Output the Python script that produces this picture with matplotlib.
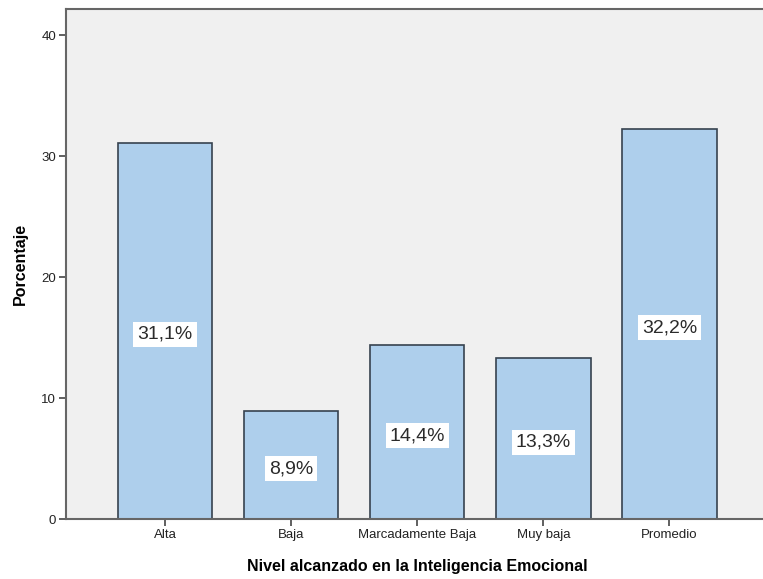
import numpy as np
import matplotlib.pyplot as plt

categorias = ["Alta", "Baja", "Marcadamente Baja", "Muy baja", "Promedio"]
porcentajes = [31.1, 8.9, 14.4, 13.3, 32.2]
etiquetas = ["31,1%", "8,9%", "14,4%", "13,3%", "32,2%"]
yticks = [0, 10, 20, 30, 40]

plt.rcParams['font.family'] = ['Liberation Sans', 'DejaVu Sans']

fig = plt.figure(figsize=(7.63, 5.79), dpi=100)
ax = fig.add_axes([66 / 763, 60 / 579, 703 / 763, 510 / 579])
ax.set_facecolor('#F0F0F0')

x = np.arange(len(categorias))
ax.bar(x, porcentajes, width=0.75, color='#AECFEC', edgecolor='#36424F', linewidth=1.2, zorder=2)

for xi, v, lab in zip(x, porcentajes, etiquetas):
    ax.text(xi, v / 2 - 0.3, lab, ha='center', va='center', fontsize=14, color='#2b2b2b',
            bbox=dict(boxstyle='square,pad=0.2', facecolor='white', edgecolor='none'), zorder=3)

ax.set_xlim(-0.785, 4.79)
ax.set_ylim(0, 42.15)
ax.set_xticks(x)
ax.set_xticklabels(categorias, fontsize=9.5, color='#222222')
ax.set_yticks(yticks)
ax.set_yticklabels([str(t) for t in yticks], fontsize=9.5, color='#222222')
ax.tick_params(direction='out', length=5, width=1.2, color='#444444', pad=2)

for s in ax.spines.values():
    s.set_color('#666666')
    s.set_linewidth(1.5)

ax.set_xlabel("Nivel alcanzado en la Inteligencia Emocional", fontsize=11.5, fontweight='bold', labelpad=13)
fig.text(20 / 763, 1 - 264 / 579, "Porcentaje", rotation=90, ha='center', va='center',
         fontsize=11.5, fontweight='bold')

fig.savefig("out.png", dpi=100)
